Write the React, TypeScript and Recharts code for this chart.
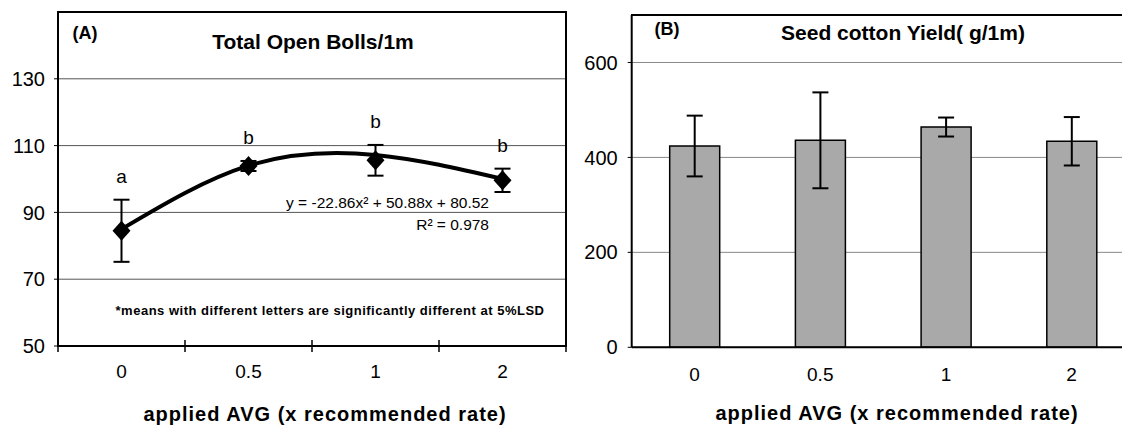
import React from 'react';
import {
  ComposedChart, BarChart, Bar, Line, XAxis, YAxis, CartesianGrid, ErrorBar, LabelList
} from 'recharts';

// applied AVG rates (x recommended rate)
const RATES = ['0', '0.5', '1', '2'];

// (A) total open bolls / 1m
const BOLLS = [84.5, 103.9, 105.6, 99.6];
const BOLLS_ERR = [9.3, 1.5, 4.6, 3.5];
const BOLLS_FIT = [85, 104, 107.2, 100];
const LETTERS = ['a', 'b', 'b', 'b'];
const BOLL_TICKS = [50, 70, 90, 110, 130];

// (B) seed cotton yield g / 1m
const YIELD = [424, 436, 464, 434];
const YIELD_ERR = [64, 101, 20, 51];
const YIELD_TICKS = [0, 200, 400, 600];

const FONT = '"Liberation Sans", Arial, Helvetica, sans-serif';

const bollData = RATES.map((r, i) => ({
  rate: r,
  mean: BOLLS[i],
  err: BOLLS_ERR[i],
  fit: BOLLS_FIT[i],
  top: BOLLS[i] + BOLLS_ERR[i],
  letter: LETTERS[i],
}));

const yieldData = RATES.map((r, i) => ({ rate: r, value: YIELD[i], err: YIELD_ERR[i] }));

const BAND_A = 508 / RATES.length;

const Diamond = (props: any) => {
  const { cx, cy } = props;
  if (cx == null || cy == null) return null;
  return <polygon points={`${cx},${cy - 10} ${cx + 9},${cy} ${cx},${cy + 10} ${cx - 9},${cy}`} fill="#000" />;
};

const BollTick = (props: any) => {
  const { x, y, payload, index } = props;
  return (
    <g>
      <text x={x} y={y + 25} textAnchor="middle" dominantBaseline="central" fontSize={19} fontFamily={FONT} fill="#000">
        {payload.value}
      </text>
      <line x1={x - BAND_A / 2} x2={x - BAND_A / 2} y1={y - 6} y2={y + 6} stroke="#000" strokeWidth={1.5} />
      {index === RATES.length - 1 && (
        <line x1={x + BAND_A / 2} x2={x + BAND_A / 2} y1={y - 6} y2={y + 6} stroke="#000" strokeWidth={1.5} />
      )}
    </g>
  );
};

const LetterLabel = (props: any) => {
  const { x, y, value } = props;
  return (
    <text x={x} y={y - 23} textAnchor="middle" dominantBaseline="central" fontSize={19} fontFamily={FONT} fill="#000">
      {value}
    </text>
  );
};

const Txt: React.FC<{ x: number; y: number; size: number; bold?: boolean; align?: 'center' | 'right'; spacing?: number; children: React.ReactNode }> =
  ({ x, y, size, bold, align = 'center', spacing = 0, children }) => (
    <div
      style={{
        position: 'absolute',
        left: x,
        top: y,
        transform: align === 'center' ? 'translate(-50%, -50%)' : 'translate(-100%, -50%)',
        fontFamily: FONT,
        fontSize: size,
        fontWeight: bold ? 'bold' : 'normal',
        letterSpacing: spacing,
        lineHeight: 1,
        whiteSpace: 'nowrap',
        color: '#000',
      }}
    >
      {children}
    </div>
  );

// plot box edges not drawn by the axes
const Box: React.FC<{ left: number; top: number; width: number; height: number }> = ({ left, top, width, height }) => (
  <div style={{ position: 'absolute', left, top, width, height, border: '2px solid #000', boxSizing: 'border-box', pointerEvents: 'none' }} />
);
const HLine: React.FC<{ left: number; top: number; width: number }> = ({ left, top, width }) => (
  <div style={{ position: 'absolute', left, top, width, height: 2, background: '#000', pointerEvents: 'none' }} />
);

const axisTick = { fontSize: 20, fill: '#000', fontFamily: FONT };

export default function App() {
  return (
    <div style={{ position: 'absolute', left: 0, top: 0, width: 1122, height: 426, overflow: 'hidden', background: '#fff' }}>
      <div style={{ position: 'absolute', left: 0, top: 0 }}>
        <ComposedChart width={580} height={426} data={bollData} margin={{ top: 12, right: 14, bottom: 50, left: 0 }}>
          <CartesianGrid vertical={false} stroke="#555" strokeWidth={1} />
          <XAxis dataKey="rate" scale="band" height={30} tickLine={false} tickSize={0} tickMargin={0} interval={0}
            axisLine={{ stroke: '#000', strokeWidth: 2 }} tick={<BollTick />} />
          <YAxis width={58} domain={[50, 150]} ticks={BOLL_TICKS} interval={0} tickSize={4} tickMargin={9}
            axisLine={{ stroke: '#000', strokeWidth: 2 }} tickLine={{ stroke: '#000' }} tick={axisTick} />
          <Line dataKey="fit" type="natural" stroke="#000" strokeWidth={4} dot={false} isAnimationActive={false} />
          <Line dataKey="mean" stroke="none" dot={<Diamond />} activeDot={false} isAnimationActive={false}>
            <ErrorBar dataKey="err" width={8} stroke="#000" strokeWidth={2} direction="y" />
          </Line>
          <Line dataKey="top" stroke="none" dot={false} activeDot={false} isAnimationActive={false}>
            <LabelList dataKey="letter" content={<LetterLabel />} />
          </Line>
        </ComposedChart>
      </div>

      {/* panel B runs past the right edge of the picture, as in the scan */}
      <div style={{ position: 'absolute', left: 580, top: 0, width: 542, height: 426, overflow: 'hidden' }}>
        <BarChart width={570} height={426} data={yieldData} margin={{ top: 15, right: 15.5, bottom: 48.7, left: 0 }}>
          <CartesianGrid vertical={false} stroke="#888" strokeWidth={1} />
          <XAxis dataKey="rate" height={30} tickLine={false} tickSize={0} tickMargin={20} interval={0}
            axisLine={{ stroke: '#000', strokeWidth: 2 }} tick={{ fontSize: 19, fill: '#000', fontFamily: FONT }} />
          <YAxis width={51.7} domain={[0, 700]} ticks={YIELD_TICKS} interval={0} tickSize={4} tickMargin={10}
            axisLine={{ stroke: '#000', strokeWidth: 2 }} tickLine={{ stroke: '#000' }} tick={axisTick} />
          <Bar dataKey="value" barSize={50} fill="#a9a9a9" stroke="#000" strokeWidth={1.5} isAnimationActive={false}>
            <ErrorBar dataKey="err" width={8} stroke="#000" strokeWidth={2} direction="y" />
          </Bar>
        </BarChart>
      </div>

      <Box left={57} top={11} width={510} height={336} />
      <HLine left={631} top={14} width={491} />

      <Txt x={85} y={33} size={18} bold>(A)</Txt>
      <Txt x={313} y={41} size={21} bold>Total Open Bolls/1m</Txt>
      <Txt x={489} y={203} size={15.5} align="right">y = -22.86x² + 50.88x + 80.52</Txt>
      <Txt x={489} y={225} size={15.5} align="right">R² = 0.978</Txt>
      <Txt x={330} y={310} size={13} bold spacing={0.5}>*means with different letters are significantly different at 5%LSD</Txt>
      <Txt x={325} y={414} size={20} bold spacing={1}>applied AVG (x recommended rate)</Txt>

      <Txt x={667} y={29} size={18} bold>(B)</Txt>
      <Txt x={903} y={32} size={21} bold>Seed cotton Yield( g/1m)</Txt>
      <Txt x={897} y={413} size={20} bold spacing={1}>applied AVG (x recommended rate)</Txt>
    </div>
  );
}
